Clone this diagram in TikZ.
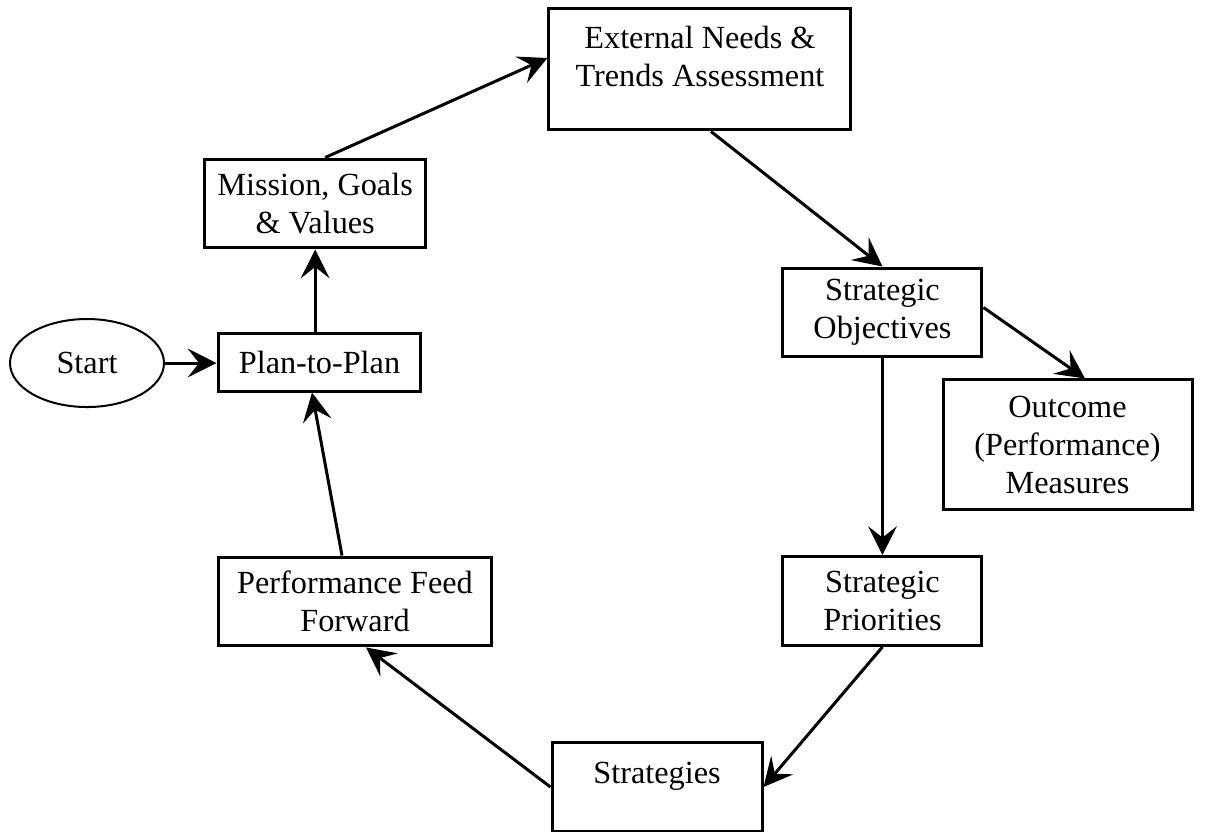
\documentclass[tikz,border=0pt]{standalone}
\usepackage{fontspec}
\setmainfont{Liberation Serif}
\usepackage{tikz}
\usetikzlibrary{shapes}
\usetikzlibrary{arrows.meta}

\begin{document}
\begin{tikzpicture}[font=\fontsize{12.9}{15.2}\selectfont,
		box/.style={rectangle, draw, very thick, align=center, inner sep=2pt, minimum height=1.25cm},
		flow/.style={very thick, -{Stealth[length=11.5pt, width=11.5pt, inset=4.5pt]}}]
				\path[use as bounding box, clip] (0,0) rectangle (17.261,11.681);
				
				\node[ellipse, draw, thick, minimum width=2.165cm, minimum height=1.237cm, inner sep=0pt] (S) at (1.223,6.578) {Start};
				\node[box, minimum width=2.853cm, minimum height=0.815cm] (P) at (4.491,6.592) {Plan-to-Plan};
				\node[box, minimum width=3.1cm] (M) at (4.43,8.820) {Mission, Goals\\\& Values};
				\node[box, minimum width=4.245cm, minimum height=1.701cm] (E) at (9.839,10.704) {External Needs \&\\Trends Assessment\\[-4.8pt]~};
				\node[box, minimum width=2.797cm] (O) at (12.404,7.288) {Strategic\\Objectives};
				\node[box, minimum width=3.500cm, minimum height=1.827cm] (OM) at (15.005,5.426) {Outcome\\(Performance)\\Measures};
				\node[box, minimum width=2.797cm] (SP) at (12.404,3.233) {Strategic\\Priorities};
				\node[box, minimum width=2.952cm] (ST) at (9.235,0.618) {Strategies\\[-4pt]~};
				\node[box, minimum width=3.85cm] (PF) at (4.99,3.226) {Performance Feed\\Forward};
				
				\draw[flow] (S.east) -- (S.east -| P.west);
				\draw[flow] (M.south |- P.north) -- (M.south);
				\draw[flow] ([xshift=4pt]M.north) -- ([yshift=4.6pt]E.west);
				\draw[flow] ([xshift=4.4pt]E.south) -- (O.north);
				\draw[flow] ([yshift=2pt]O.east) -- ([xshift=7pt]OM.north);
				\draw[flow] (O.south) -- (SP.north);
				\draw[flow] (SP.south) -- (ST.east);
				\draw[flow] (ST.west) -- ([xshift=4.4pt]PF.south);
				\draw[flow] ([xshift=-5.2pt]PF.north) -- ([xshift=-3pt]P.south);
			\end{tikzpicture}
\end{document}
